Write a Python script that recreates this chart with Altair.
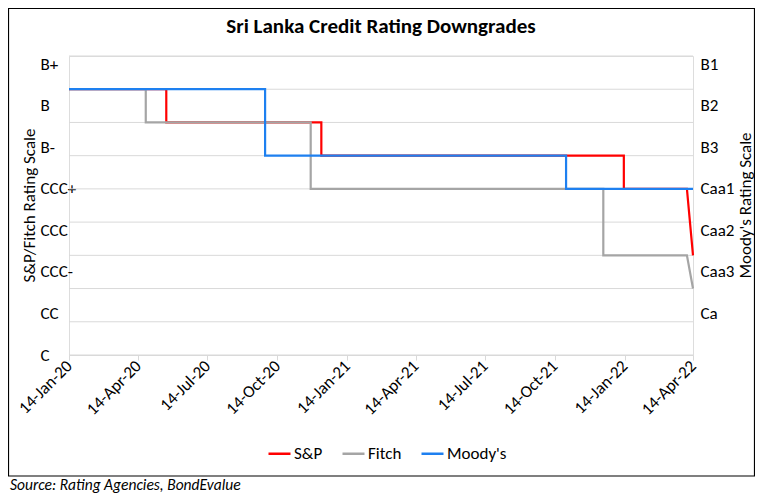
import json
import altair as alt
import pandas as pd

# ---------------- data ----------------
agencies = ["S&P", "Fitch", "Moody's"]
colors = ["#FF0000", "#A5A5A5", "#1E80F0"]

# rating steps on a common 0-9 chart scale (gridline units)
sp_dates = ["2020-01-14", "2020-05-21", "2020-05-21", "2020-12-11", "2020-12-11",
            "2022-01-13", "2022-01-13", "2022-04-06", "2022-04-14"]
sp_values = [8, 8, 7, 7, 6, 6, 5, 5, 3]

fitch_dates = ["2020-01-14", "2020-04-24", "2020-04-24", "2020-11-27", "2020-11-27",
               "2021-12-17", "2021-12-17", "2022-04-06", "2022-04-14"]
fitch_values = [8, 8, 7, 7, 5, 5, 3, 3, 2]

moodys_dates = ["2020-01-14", "2020-09-28", "2020-09-28", "2021-10-29", "2021-10-29",
                "2022-04-14"]
moodys_values = [8, 8, 6, 6, 5, 5]

x_ticks = [(2020, 1, 14), (2020, 4, 14), (2020, 7, 14), (2020, 10, 14), (2021, 1, 14),
           (2021, 4, 14), (2021, 7, 14), (2021, 10, 14), (2022, 1, 14), (2022, 4, 14)]

label_positions = [8.75, 7.5, 6.25, 5, 3.75, 2.5, 1.25, 0]
left_labels = ["B+", "B", "B-", "CCC+", "CCC", "CCC-", "CC", "C"]
right_labels = ["B1", "B2", "B3", "Caa1", "Caa2", "Caa3", "Ca", ""]
grid_values = [0, 1, 2, 3, 4, 5, 6, 7, 8, 9]

title_text = "Sri Lanka Credit Rating Downgrades"
source_text = "Source: Rating Agencies, BondEvalue"
left_title = "S&P/Fitch Rating Scale"
right_title = "Moody's Rating Scale"

FONT = "Carlito, Calibri, 'Liberation Sans', sans-serif"
FS = 17

# ---------------- tables ----------------
rows = []
for name, ds, vs in [("S&P", sp_dates, sp_values), ("Fitch", fitch_dates, fitch_values),
                     ("Moody's", moodys_dates, moodys_values)]:
    for i, (d, v) in enumerate(zip(ds, vs)):
        rows.append({"agency": name, "date": d, "value": v, "seq": i})
df = pd.DataFrame(rows)
grid_df = pd.DataFrame({"g": grid_values})
one = pd.DataFrame({"k": [0]})


def lab_expr(labels):
    mapping = {f"{p:g}": l for p, l in zip(label_positions, labels)}
    return json.dumps(mapping) + "[datum.value + '']"


W, H = 624, 299
yscale = alt.Scale(domain=[0, 9], nice=False, zero=False)
xscale = alt.Scale(type="utc",
                   domain=[alt.DateTime(year=2020, month=1, date=14, utc=True),
                           alt.DateTime(year=2022, month=4, date=14, utc=True)])

left_axis = alt.Axis(values=label_positions, labelExpr=lab_expr(left_labels), title=None,
                     ticks=False, tickSize=0, domain=False, grid=False, labelAlign="left",
                     labelPadding=29, labelFontSize=FS, labelColor="#000000", labelFont=FONT,
                     labelBaseline="middle", orient="left")
right_axis = alt.Axis(values=label_positions, labelExpr=lab_expr(right_labels), title=None,
                      ticks=False, tickSize=0, domain=False, grid=False, labelAlign="left",
                      labelPadding=7, labelFontSize=FS, labelColor="#000000", labelFont=FONT,
                      labelBaseline="middle", orient="right")
x_axis = alt.Axis(values=[alt.DateTime(year=y, month=m, date=d, utc=True) for y, m, d in x_ticks],
                  labelExpr="utcFormat(datum.value, '%d-%b-%y')", title=None, grid=False,
                  labelAngle=315, labelAlign="right", labelBaseline="middle",
                  labelPadding=3, tickSize=5, tickColor="#D9D9D9", domainColor="#D9D9D9",
                  labelFontSize=17, labelColor="#000000", labelFont=FONT)

grid = alt.Chart(grid_df).mark_rule(color="#D9D9D9", strokeWidth=1).encode(
    y=alt.Y("g:Q", scale=yscale, axis=left_axis))

lines = alt.Chart(df).mark_line(strokeWidth=2.2).encode(
    x=alt.X("date:T", scale=xscale, axis=x_axis),
    y=alt.Y("value:Q", scale=yscale, axis=None),
    color=alt.Color("agency:N", sort=agencies,
                    scale=alt.Scale(domain=agencies, range=colors),
                    legend=alt.Legend(orient="none", legendX=198, legendY=385,
                                      direction="horizontal", title=None,
                                      symbolType="stroke", symbolSize=484,
                                      symbolStrokeWidth=2.5, labelFontSize=FS,
                                      labelFont=FONT, labelColor="#000000",
                                      labelOffset=2, columnPadding=14)),
    order=alt.Order("seq:Q"))

right = alt.Chart(grid_df).mark_point(opacity=0).encode(
    y=alt.Y("g:Q", scale=yscale, axis=right_axis))

title = alt.Chart(one).mark_text(text=title_text, font=FONT, fontSize=21, fontWeight="bold",
                                 align="center", baseline="middle", color="#000000").encode(
    x=alt.value(W / 2), y=alt.value(-29))
source = alt.Chart(one).mark_text(text=source_text, font=FONT, fontSize=15.5, fontStyle="italic",
                                  align="left", baseline="alphabetic", color="#000000").encode(
    x=alt.value(-59), y=alt.value(434))
ltitle = alt.Chart(one).mark_text(text=left_title, font=FONT, fontSize=FS, angle=270,
                                  align="center", baseline="middle", color="#000000").encode(
    x=alt.value(-39), y=alt.value(H / 2))
rtitle = alt.Chart(one).mark_text(text=right_title, font=FONT, fontSize=FS, angle=270,
                                  align="center", baseline="middle", color="#000000").encode(
    x=alt.value(677), y=alt.value(H / 2))
border = alt.Chart(one).mark_rect(fill=None, stroke="#000000", strokeWidth=1.2).encode(
    x=alt.value(-60.5), x2=alt.value(685.5), y=alt.value(-47.5), y2=alt.value(420))

chart = alt.layer(grid, lines, right, title, source, ltitle, rtitle, border).resolve_scale(
    y="independent").properties(
    width=W, height=H,
    autosize=alt.AutoSizeParams(type="none"),
    padding={"left": 61, "top": 48, "right": 62, "bottom": 140},
).configure_view(stroke=None).configure(font=FONT, background="#FFFFFF")

chart.save("out.html", embed_options={"renderer": "svg", "actions": False})
